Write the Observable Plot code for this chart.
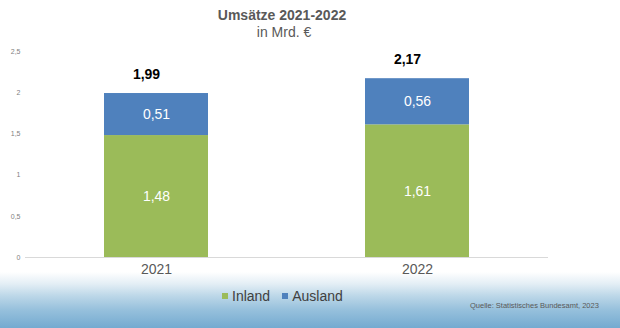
<!DOCTYPE html>
<html><head><meta charset="utf-8">
<script src="https://cdn.jsdelivr.net/npm/d3@7"></script>
<script src="https://cdn.jsdelivr.net/npm/@observablehq/plot@0.6"></script>
<style>
html,body{margin:0;padding:0;}
#wrap{position:relative;width:620px;height:328px;overflow:hidden;font-family:"Liberation Sans",Arial,sans-serif;
background:linear-gradient(to bottom,#ffffff 0px,#ffffff 272px,#e3eef5 284px,#bcd7e8 296px,#96c0dc 310px,#74aad0 328px);}
#title{position:absolute;left:182px;width:200px;top:7px;text-align:center;font-size:14px;font-weight:bold;color:#595959;}
#sub{position:absolute;left:184px;width:200px;top:24px;text-align:center;font-size:14px;color:#595959;}
#chart{position:absolute;left:0;top:0;}
#legend{position:absolute;left:222px;top:288px;font-size:14px;color:#404040;white-space:nowrap;}
#legend span.sw{display:inline-block;width:6px;height:6px;margin-right:4px;vertical-align:2px;}
#legend span.it{margin-right:12px;}
#source{position:absolute;left:470px;top:301px;font-size:7.5px;color:#595959;white-space:nowrap;}
</style></head>
<body>
<div id="wrap">
<div id="chart"></div>
<div id="title">Umsätze 2021-2022</div>
<div id="sub">in Mrd. €</div>
<div id="legend"></div>
<div id="source">Quelle: Statistisches Bundesamt, 2023</div>
</div>
<script>
const categories = ["2021", "2022"];
const inland = [1.48, 1.61];
const ausland = [0.51, 0.56];
const totals = [1.99, 2.17];
const seriesNames = ["Inland", "Ausland"];
const seriesColors = ["#9bbb59", "#4f81bd"];
const yTicks = [0, 0.5, 1, 1.5, 2, 2.5];

const de = v => String(v).replace(".", ",");
const deFix = v => v.toFixed(2).replace(".", ",");

const rows = [];
categories.forEach((c, i) => {
  rows.push({year: c, series: "Inland", value: inland[i]});
  rows.push({year: c, series: "Ausland", value: ausland[i]});
});
const totalRows = categories.map((c, i) => ({year: c, total: totals[i]}));

const plot = Plot.plot({
  width: 620,
  height: 290,
  marginTop: 51,
  marginBottom: 33,
  marginLeft: 25,
  marginRight: 72,
  style: {fontFamily: "Liberation Sans, Arial, sans-serif", background: "transparent"},
  x: {domain: categories, paddingInner: 0.6, paddingOuter: 0.3, label: null},
  y: {domain: [0, 2.5], label: null},
  color: {domain: seriesNames, range: seriesColors},
  marks: [
    Plot.axisY({ticks: yTicks, tickSize: 0, tickPadding: 5, tickFormat: de, fontSize: 7, fill: "#7f7f7f", label: null}),
    Plot.axisX({tickSize: 0, tickPadding: 7, fontSize: 14, fill: "#595959", label: null}),
    Plot.barY(rows, {x: "year", y: "value", fill: "series", order: seriesNames}),
    Plot.ruleY([0], {stroke: "#d9d9d9", strokeWidth: 1}),
    Plot.text(rows, Plot.stackY({x: "year", y: "value", z: "series", order: seriesNames, text: d => deFix(d.value), fill: "white", fontSize: 14})),
    Plot.text(totalRows, {x: "year", y: "total", text: d => deFix(d.total), dx: -10, dy: -19, fontSize: 14, fontWeight: "bold", fill: "black"})
  ]
});
document.getElementById("chart").appendChild(plot);

const lg = document.getElementById("legend");
seriesNames.forEach((s, i) => {
  const sw = document.createElement("span");
  sw.className = "sw";
  sw.style.background = seriesColors[i];
  const t = document.createElement("span");
  t.className = "it";
  t.textContent = s;
  lg.appendChild(sw); lg.appendChild(t);
});
</script>
</body></html>
